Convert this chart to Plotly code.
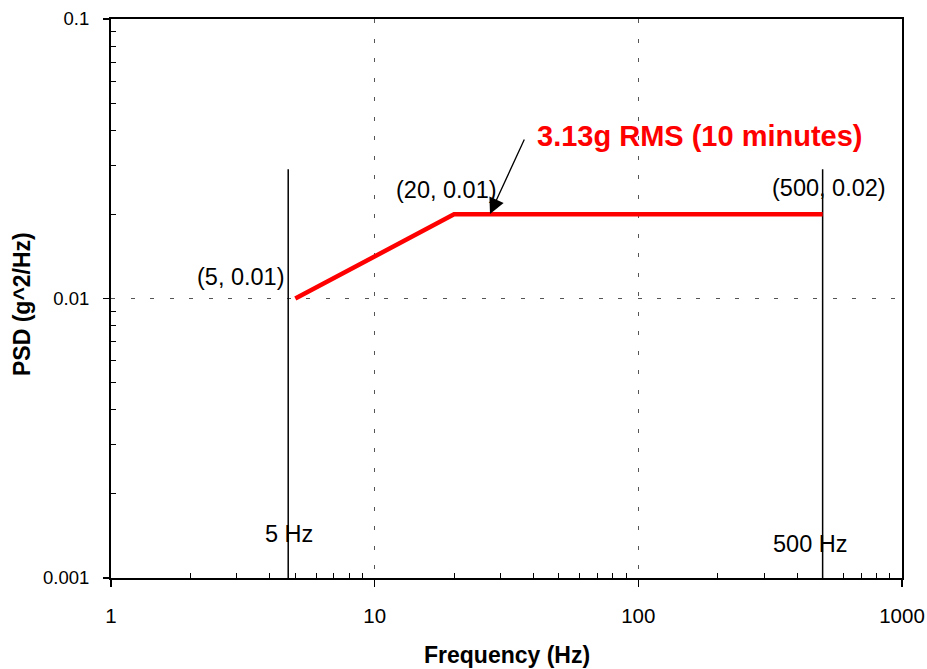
import plotly.graph_objects as go

# ---- data ----
profile_freq = [5, 20, 500]          # Hz
profile_psd = [0.01, 0.02, 0.02]     # g^2/Hz
marker_freq = [4.7, 500]             # vertical marker lines (Hz)
marker_top = 0.029                   # top of marker lines
marker_bottom = 0.001
marker_labels = ["5 Hz", "500 Hz"]
point_labels = ["(5, 0.01)", "(20, 0.01)", "(500, 0.02)"]
title_text = "3.13g RMS (10 minutes)"
x_title = "Frequency (Hz)"
y_title = "PSD (g^2/Hz)"

x_tickvals = [1, 10, 100, 1000]
x_ticktext = ["1", "10", "100", "1000"]
y_tickvals = [0.001, 0.01, 0.1]
y_ticktext = ["0.001", "0.01", "0.1"]
x_minor = [m * d for d in (1, 10, 100) for m in range(2, 10)]
y_minor = [m * d for d in (0.001, 0.01) for m in range(2, 10)]

FONT = "Liberation Sans, Arial, sans-serif"
W, H = 927, 669
L, R, T, B = 111, 902, 19, 578   # plot area in pixels


def px(x):
    return (x - L) / (R - L)


def py(y):
    return (B - y) / (B - T)


fig = go.Figure()

for f in marker_freq:
    fig.add_trace(go.Scatter(x=[f, f], y=[marker_bottom, marker_top], mode="lines",
                             line=dict(color="black", width=1.5), hoverinfo="skip",
                             showlegend=False))

fig.add_trace(go.Scatter(x=profile_freq, y=profile_psd, mode="lines",
                         line=dict(color="#ff0000", width=4.5), showlegend=False))

annotations = []
label_pos = [(241, 277), (446, 190), (829, 188)]
for t, (x, y) in zip(point_labels, label_pos):
    annotations.append(dict(text=t, x=px(x), y=py(y), xref="paper", yref="paper",
                            showarrow=False, xanchor="center", yanchor="middle",
                            font=dict(family=FONT, size=23.5, color="black")))
mlabel_pos = [(289, 534), (810, 544)]
for t, (x, y) in zip(marker_labels, mlabel_pos):
    annotations.append(dict(text=t, x=px(x), y=py(y), xref="paper", yref="paper",
                            showarrow=False, xanchor="center", yanchor="middle",
                            font=dict(family=FONT, size=23.5, color="black")))
annotations.append(dict(text="<b>" + title_text + "</b>", x=px(700), y=py(136),
                        xref="paper", yref="paper", showarrow=False,
                        xanchor="center", yanchor="middle",
                        font=dict(family=FONT, size=29, color="#ff0000")))
annotations.append(dict(text="", x=px(490), y=py(214), xref="paper", yref="paper",
                        showarrow=True, ax=35, ay=-76, arrowhead=2, arrowsize=2.4,
                        arrowwidth=1.3, arrowcolor="black"))
annotations.append(dict(text="<b>" + x_title + "</b>", x=px(507), y=py(655),
                        xref="paper", yref="paper", showarrow=False,
                        xanchor="center", yanchor="middle",
                        font=dict(family=FONT, size=23, color="black")))
annotations.append(dict(text="<b>" + y_title + "</b>", x=px(22), y=py(304),
                        xref="paper", yref="paper", showarrow=False, textangle=-90,
                        xanchor="center", yanchor="middle",
                        font=dict(family=FONT, size=23, color="black")))

GRID = dict(showgrid=True, gridcolor="#555555", gridwidth=1.5, griddash="4px,15.5px")

fig.update_layout(
    width=W, height=H,
    margin=dict(l=L, r=W - R, t=T, b=H - B),
    plot_bgcolor="white", paper_bgcolor="white",
    font=dict(family=FONT, size=19, color="black"),
    annotations=annotations,
    hovermode=False,
    xaxis=dict(type="log", range=[0, 3], tickmode="array", tickvals=x_tickvals,
               ticktext=x_ticktext, ticks="outside", ticklen=7, tickwidth=1.5,
               tickcolor="black", showline=True, linecolor="black", linewidth=2,
               mirror=True, zeroline=False, ticklabelstandoff=11,
               automargin=False, tickfont=dict(size=20.5),
               minor=dict(tickmode="array", tickvals=x_minor, ticks="inside",
                          ticklen=5, tickwidth=1, tickcolor="black", showgrid=False),
               **GRID),
    yaxis=dict(type="log", range=[-3, -1], tickmode="array", tickvals=y_tickvals,
               ticktext=y_ticktext, ticks="outside", ticklen=6, tickwidth=1.5,
               tickcolor="black", showline=True, linecolor="black", linewidth=2,
               mirror=True, zeroline=False, ticklabelstandoff=10,
               automargin=False, tickfont=dict(size=18.5),
               minor=dict(tickmode="array", tickvals=y_minor, ticks="inside",
                          ticklen=5, tickwidth=1, tickcolor="black", showgrid=False),
               **GRID),
)

# remove the page's default body margin so the figure fills the window exactly
fig.write_html("out.html",
               config={"displayModeBar": False, "staticPlot": True},
               post_script="document.body.style.margin='0';document.body.style.overflow='hidden';")
